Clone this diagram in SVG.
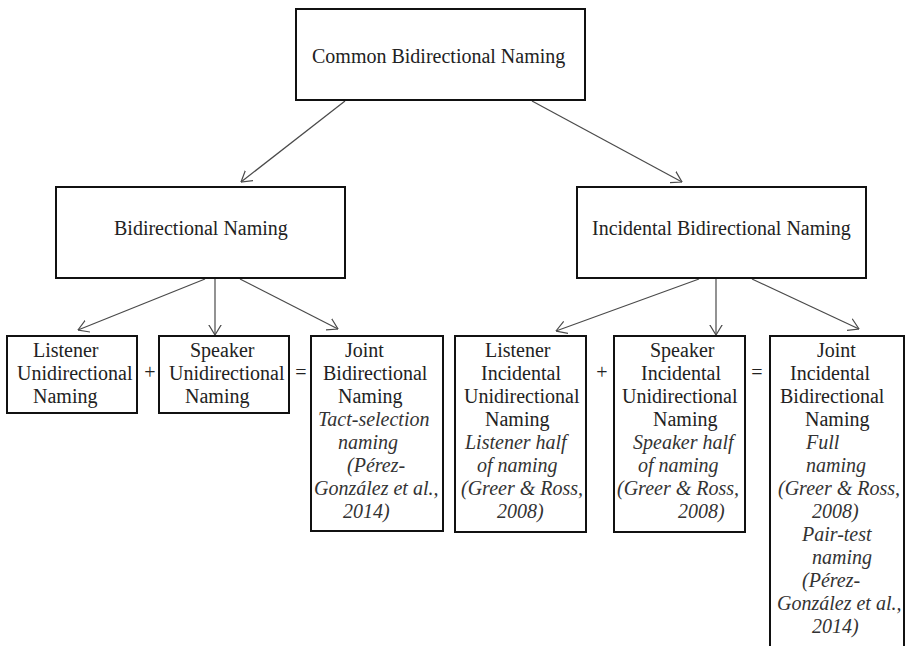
<svg xmlns="http://www.w3.org/2000/svg" width="906" height="646" viewBox="0 0 906 646">
<style>
.box{fill:#fff;stroke:#111;stroke-width:2}
.t{font-family:"Liberation Serif","Times New Roman",serif;font-size:20px;fill:#222}
.i{font-style:italic;fill:#333}
.c{stroke:#4a4a4a;stroke-width:1.2;fill:none}
</style>
<defs>
<marker id="ah" viewBox="0 0 11 14" refX="10.5" refY="7" markerWidth="11" markerHeight="14" markerUnits="userSpaceOnUse" orient="auto">
<path d="M0,0.6 L10.5,7 L0,13.4" fill="none" stroke="#4a4a4a" stroke-width="1.2"/>
</marker>
</defs>
<rect width="906" height="646" fill="#fff"/>
<g id="connectors">
<line class="c" x1="345" y1="101" x2="241" y2="182" marker-end="url(#ah)"/>
<line class="c" x1="532" y1="101" x2="682" y2="182" marker-end="url(#ah)"/>
<line class="c" x1="205" y1="279" x2="78" y2="330" marker-end="url(#ah)"/>
<line class="c" x1="215" y1="279" x2="215" y2="335" marker-end="url(#ah)"/>
<line class="c" x1="240" y1="279" x2="338" y2="329" marker-end="url(#ah)"/>
<line class="c" x1="699" y1="279" x2="556" y2="331" marker-end="url(#ah)"/>
<line class="c" x1="716" y1="279" x2="716" y2="335" marker-end="url(#ah)"/>
<line class="c" x1="752" y1="279" x2="859" y2="329" marker-end="url(#ah)"/>
</g>
<g id="common">
<rect class="box" x="296" y="9" width="289" height="91"/>
<text class="t" x="312" y="63">Common Bidirectional Naming</text>
</g>
<g id="bidirectional">
<rect class="box" x="56" y="187" width="289" height="91"/>
<text class="t" x="114" y="235">Bidirectional Naming</text>
</g>
<g id="incidental">
<rect class="box" x="577" y="187" width="289" height="91"/>
<text class="t" x="592" y="235">Incidental Bidirectional Naming</text>
</g>
<g id="listener-uni">
<rect class="box" x="7" y="336" width="130" height="77"/>
<text class="t" x="33" y="357">Listener</text>
<text class="t" x="17" y="380">Unidirectional</text>
<text class="t" x="33" y="403">Naming</text>
</g>
<g id="plus1"><text class="t" x="150" y="379" text-anchor="middle">+</text></g>
<g id="speaker-uni">
<rect class="box" x="159" y="336" width="130" height="77"/>
<text class="t" x="190" y="357">Speaker</text>
<text class="t" x="169" y="380">Unidirectional</text>
<text class="t" x="185" y="403">Naming</text>
</g>
<g id="eq1"><text class="t" x="301" y="379" text-anchor="middle">=</text></g>
<g id="joint-bi">
<rect class="box" x="311" y="336" width="132" height="195"/>
<text class="t" x="345" y="357">Joint</text>
<text class="t" x="323" y="380">Bidirectional</text>
<text class="t" x="338" y="403">Naming</text>
<text class="t i" x="318" y="426">Tact-selection</text>
<text class="t i" x="338" y="449">naming</text>
<text class="t i" x="347" y="472">(Pérez-</text>
<text class="t i" x="314" y="495">González et al.,</text>
<text class="t i" x="343" y="518">2014)</text>
</g>
<g id="listener-inc">
<rect class="box" x="455" y="336" width="131" height="196"/>
<text class="t" x="485" y="357">Listener</text>
<text class="t" x="481" y="380">Incidental</text>
<text class="t" x="464" y="403">Unidirectional</text>
<text class="t" x="485" y="426">Naming</text>
<text class="t i" x="465" y="449">Listener half</text>
<text class="t i" x="477" y="472">of naming</text>
<text class="t i" x="461" y="495">(Greer &amp; Ross,</text>
<text class="t i" x="497" y="518">2008)</text>
</g>
<g id="plus2"><text class="t" x="602" y="379" text-anchor="middle">+</text></g>
<g id="speaker-inc">
<rect class="box" x="614" y="336" width="131" height="196"/>
<text class="t" x="650" y="357">Speaker</text>
<text class="t" x="641" y="380">Incidental</text>
<text class="t" x="622" y="403">Unidirectional</text>
<text class="t" x="653" y="426">Naming</text>
<text class="t i" x="633" y="449">Speaker half</text>
<text class="t i" x="638" y="472">of naming</text>
<text class="t i" x="617" y="495">(Greer &amp; Ross,</text>
<text class="t i" x="678" y="518">2008)</text>
</g>
<g id="eq2"><text class="t" x="757" y="379" text-anchor="middle">=</text></g>
<g id="joint-inc">
<rect class="box" x="770" y="336" width="134" height="330"/>
<text class="t" x="817" y="357">Joint</text>
<text class="t" x="790" y="380">Incidental</text>
<text class="t" x="780" y="403">Bidirectional</text>
<text class="t" x="805" y="426">Naming</text>
<text class="t i" x="806" y="449">Full</text>
<text class="t i" x="806" y="472">naming</text>
<text class="t i" x="778" y="495">(Greer &amp; Ross,</text>
<text class="t i" x="812" y="518">2008)</text>
<text class="t i" x="802" y="541">Pair-test</text>
<text class="t i" x="812" y="564">naming</text>
<text class="t i" x="802" y="587">(Pérez-</text>
<text class="t i" x="777" y="610">González et al.,</text>
<text class="t i" x="812" y="633">2014)</text>
</g>
</svg>
